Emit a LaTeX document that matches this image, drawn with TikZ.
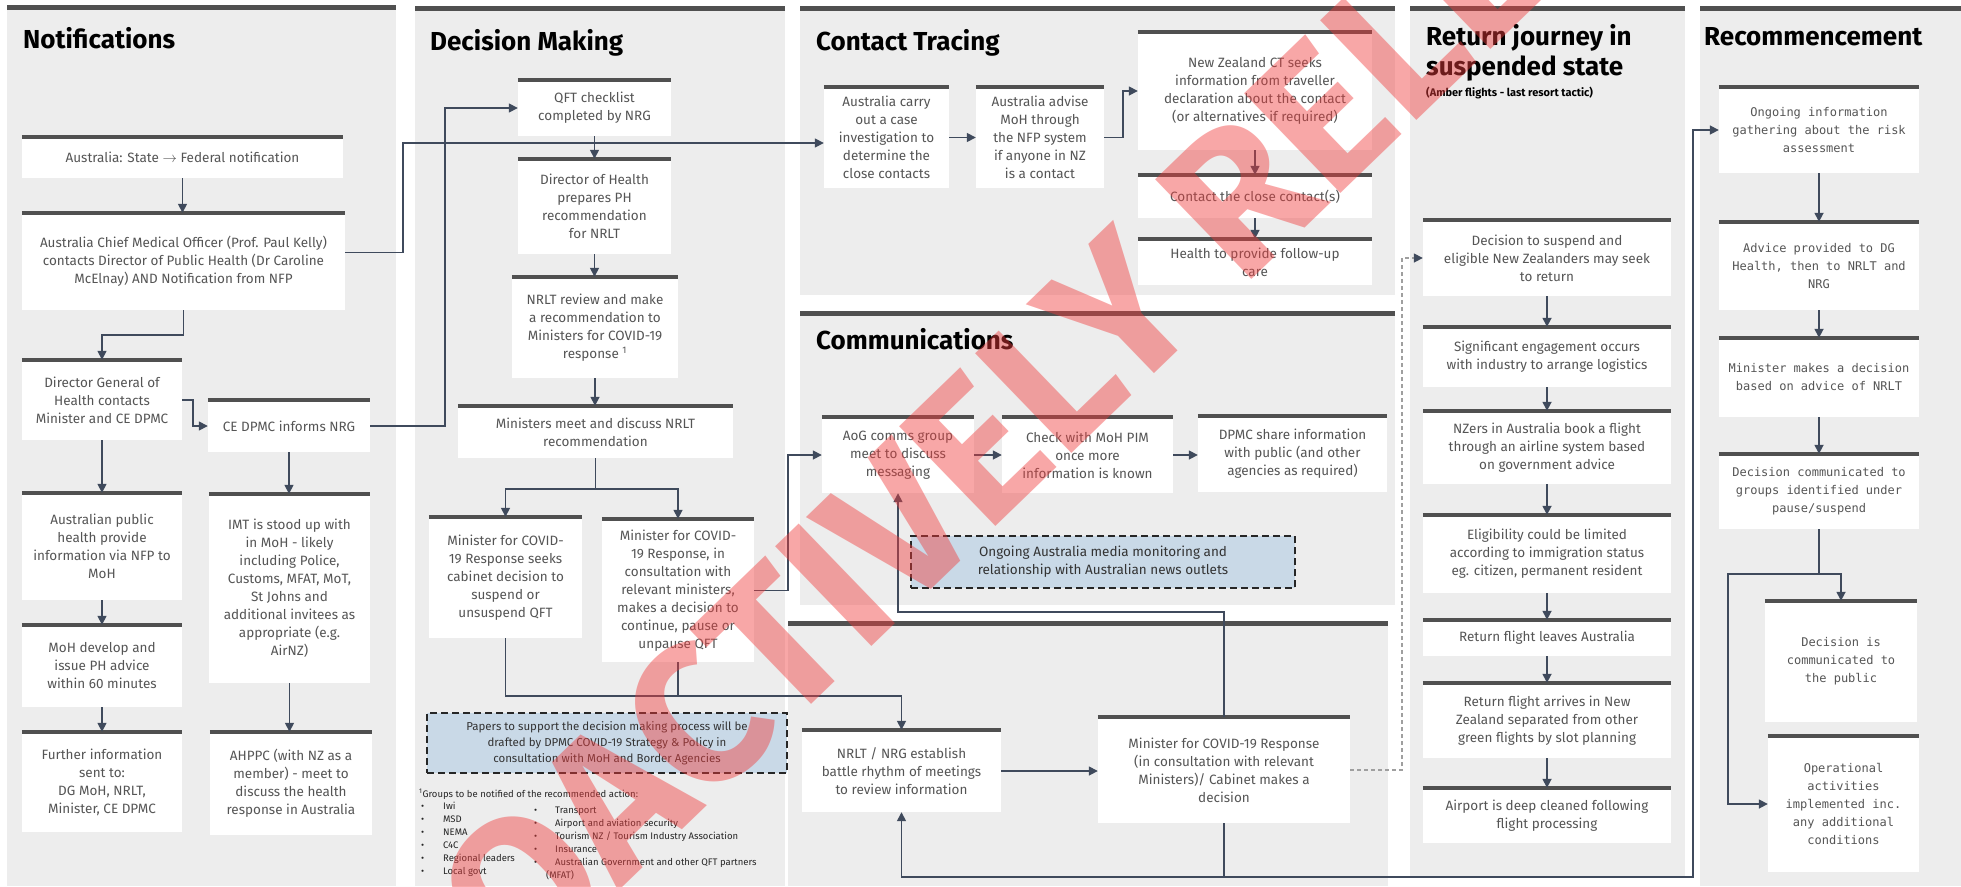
\documentclass[tikz,border=0pt]{standalone}
\usepackage{fontspec}
\setmainfont{Fira Sans}
\newfontfamily\monofam{DejaVu Sans Mono}
\usetikzlibrary{arrows.meta,calc}
\definecolor{panelgray}{HTML}{EDEDED}
\definecolor{bargray}{HTML}{505050}
\definecolor{arrowcol}{HTML}{3F4A5C}
\definecolor{txtgray}{HTML}{555555}
\definecolor{noteblue}{HTML}{C9D9E7}
\definecolor{wmred}{HTML}{F03C3C}
\tikzset{
  wh/.style 2 args={minimum width=#1pt, minimum height=#2pt},
  box/.style={fill=white, align=center, inner sep=1pt, text=txtgray, font=\fontsize{13.5}{18}\selectfont},
  rbox/.style={box, font=\monofam\fontsize{12}{18}\selectfont},
  note/.style={fill=noteblue, draw=black!85, dash pattern=on 7pt off 4pt, line width=1.3pt, align=center, text=black!80, inner sep=1pt},
  topbar/.style={draw=bargray, line width=4pt},
  panelbar/.style={draw=bargray, line width=5pt},
  arr/.style={draw=arrowcol, line width=1.6pt, -{Triangle[length=9pt,width=9pt]}},
  plain/.style={draw=arrowcol, line width=1.6pt},
  dasharr/.style={draw=gray!75, line width=1.6pt, dash pattern=on 4pt off 3pt, -{Triangle[length=9pt,width=9pt,color=arrowcol]}},
  title/.style={anchor=base west, font=\bfseries\fontsize{26}{30}\selectfont, inner sep=0pt, text=black},
  fnote/.style={anchor=north west, align=left, inner sep=0pt, text=black!85, font=\fontsize{9.5}{13}\selectfont},
  wm/.style={text=wmred, text opacity=0.45, inner sep=0pt, font=\bfseries\fontsize{200}{200}\selectfont}
}
\begin{document}
\begin{tikzpicture}[x=1pt,y=-1pt]
\useasboundingbox (0,0) rectangle (1961,886);
% panels
\fill[panelgray] (7,7) rectangle (396,886);
\fill[panelgray] (415,8) rectangle (785,886);
\fill[panelgray] (800,8) rectangle (1395,295);
\fill[panelgray] (800,313) rectangle (1395,605);
\fill[panelgray] (788,623) rectangle (1388,886);
\fill[panelgray] (1410,8) rectangle (1685,877);
\fill[panelgray] (1700,8) rectangle (1961,886);
\draw[panelbar] (7,7) -- (396,7);
\draw[panelbar] (415,8) -- (785,8);
\draw[panelbar] (800,8) -- (1395,8);
\draw[panelbar] (800,313) -- (1395,313);
\draw[panelbar] (788,623) -- (1388,623);
\draw[panelbar] (1410,8) -- (1685,8);
\draw[panelbar] (1700,8) -- (1961,8);
% titles
\node[title] (t1) at (23,48) {Notifications};
\node[title] (t2) at (430,50) {Decision Making};
\node[title] (t3) at (816,50) {Contact Tracing};
\node[title] (t4) at (816,349) {Communications};
\node[title] (t5) at (1426,45) {Return journey in};
\node[title] (t5b) at (1426,75) {suspended state};
\node[title, font=\bfseries\fontsize{11}{13}\selectfont] (t5c) at (1426,96) {(Amber flights - last resort tactic)};
\node[title] (t6) at (1704,45) {Recommencement};
% Notifications
\node[box, wh={321}{41}] (a1) at (182.5,157.5) {Australia: State $\rightarrow$ Federal notification};
\node[box, wh={323}{97}] (a2) at (183.5,261.5) {Australia Chief Medical Officer (Prof. Paul Kelly)\\contacts Director of Public Health (Dr Caroline\\McElnay) AND Notification from NFP};
\node[box, wh={160}{80}] (a3) at (102,400) {Director General of\\Health contacts\\Minister and CE DPMC};
\node[box, wh={162}{52}] (a4) at (289,426) {CE DPMC informs NRG};
\node[box, wh={160}{107}] (a5) at (102,546.5) {Australian public\\health provide\\information via NFP to\\MoH};
\node[box, wh={160}{82}] (a6) at (102,666) {MoH develop and\\issue PH advice\\within 60 minutes};
\node[box, wh={160}{100}] (a7) at (102,782) {Further information\\sent to:\\DG MoH, NRLT,\\Minister, CE DPMC};
\node[box, wh={161}{189}] (a8) at (289.5,588.5) {IMT is stood up with\\in MoH - likely\\including Police,\\Customs, MFAT, MoT,\\St Johns and\\additional invitees as\\appropriate (e.g.\\AirNZ)};
\node[box, wh={162}{103}] (a9) at (291,783.5) {AHPPC (with NZ as a\\member) - meet to\\discuss the health\\response in Australia};
% Decision making
\node[box, wh={153}{56}] (b1) at (594.5,108) {QFT checklist\\completed by NRG};
\node[box, wh={153}{95}] (b2) at (594.5,206.5) {Director of Health\\prepares PH\\recommendation\\for NRLT};
\node[box, wh={166}{101}] (b3) at (595,327.5) {NRLT review and make\\a recommendation to\\Ministers for COVID-19\\response \textsuperscript{1}};
\node[box, wh={275}{52}] (b4) at (595.5,432) {Ministers meet and discuss NRLT\\recommendation};
\node[box, wh={153}{121}] (b5) at (505.5,577.5) {Minister for COVID-\\19 Response seeks\\cabinet decision to\\suspend or\\unsuspend QFT};
\node[box, wh={152}{143}] (b6) at (678,590.5) {Minister for COVID-\\19 Response, in\\consultation with\\relevant ministers,\\makes a decision to\\continue, pause or\\unpause QFT};
\node[note, wh={360}{60}, font=\fontsize{11.5}{16}\selectfont] (b7) at (607,743) {Papers to support the decision making process will be\\drafted by DPMC COVID-19 Strategy \& Policy in\\consultation with MoH and Border Agencies};
\node[fnote] (fn) at (419,789) {\textsuperscript{1}Groups to be notified of the recommended action:};
\node[fnote] (fl1) at (421,802) {\makebox[22pt][l]{\textbullet}Iwi\\\makebox[22pt][l]{\textbullet}MSD\\\makebox[22pt][l]{\textbullet}NEMA\\\makebox[22pt][l]{\textbullet}C4C\\\makebox[22pt][l]{\textbullet}Regional leaders\\\makebox[22pt][l]{\textbullet}Local govt};
\node[fnote] (fl2) at (534,807) {\makebox[21pt][l]{\textbullet}Transport\\\makebox[21pt][l]{\textbullet}Airport and aviation security\\\makebox[21pt][l]{\textbullet}Tourism NZ / Tourism Industry Association\\\makebox[21pt][l]{\textbullet}Insurance\\\makebox[21pt][l]{\textbullet}Australian Government and other QFT partners\\\hspace*{12pt}(MFAT)};
% Contact tracing
\node[box, wh={125}{101}] (c1) at (886.5,137.5) {Australia carry\\out a case\\investigation to\\determine the\\close contacts};
\node[box, wh={128}{101}] (c2) at (1040,137.5) {Australia advise\\MoH through\\the NFP system\\if anyone in NZ\\is a contact};
\node[box, wh={234}{118}] (c3) at (1255,91) {New Zealand CT seeks\\information from traveller\\declaration about the contact\\(or alternatives if required)};
\node[box, wh={234}{43}] (c4) at (1255,196.5) {Contact the close contact(s)};
\node[box, wh={234}{46}] (c5) at (1255,262) {Health to provide follow-up\\care};
% Communications
\node[box, wh={152}{76}] (d1) at (898,455) {AoG comms group\\meet to discuss\\messaging};
\node[box, wh={171}{76}] (d2) at (1087.5,455) {Check with MoH PIM\\once more\\information is known};
\node[box, wh={189}{76}] (d3) at (1292.5,454) {DPMC share information\\with public (and other\\agencies as required)};
\node[note, wh={384}{52}, font=\fontsize{13.5}{18}\selectfont] (d4) at (1103,562) {Ongoing Australia media monitoring and\\relationship with Australian news outlets};
% lower panel
\node[box, wh={199}{82}] (e1) at (901.5,771) {NRLT / NRG establish\\battle rhythm of meetings\\to review information};
\node[box, wh={252}{106}] (e2) at (1224,770) {Minister for COVID-19 Response\\(in consultation with relevant\\Ministers)/ Cabinet makes a\\decision};
% Return journey
\node[box, wh={248}{76}] (r1) at (1547,258) {Decision to suspend and\\eligible New Zealanders may seek\\to return};
\node[box, wh={248}{60}] (r2) at (1547,357) {Significant engagement occurs\\with industry to arrange logistics};
\node[box, wh={248}{73}] (r3) at (1547,447.5) {NZers in Australia book a flight\\through an airline system based\\on government advice};
\node[box, wh={248}{78}] (r4) at (1547,554) {Eligibility could be limited\\according to immigration status\\eg. citizen, permanent resident};
\node[box, wh={248}{36}] (r5) at (1547,638) {Return flight leaves Australia};
\node[box, wh={248}{75}] (r6) at (1547,720.5) {Return flight arrives in New\\Zealand separated from other\\green flights by slot planning};
\node[box, wh={248}{55}] (r7) at (1547,815.5) {Airport is deep cleaned following\\flight processing};
% Recommencement
\node[rbox, wh={200}{86}] (f1) at (1819,130) {Ongoing information\\gathering about the risk\\assessment};
\node[rbox, wh={200}{88}] (f2) at (1819,266) {Advice provided to DG\\Health, then to NRLT and\\NRG};
\node[rbox, wh={200}{79}] (f3) at (1819,377.5) {Minister makes a decision\\based on advice of NRLT};
\node[rbox, wh={200}{75}] (f4) at (1819,491.5) {Decision communicated to\\groups identified under\\pause/suspend};
\node[rbox, wh={152}{121}] (f5) at (1841,661.5) {Decision is\\communicated to\\the public};
\node[rbox, wh={151}{136}] (f6) at (1843.5,804) {Operational\\activities\\implemented inc.\\any additional\\conditions};
% top bars of boxes
\foreach \n in {a1,a2,a3,a4,a5,a6,a7,a8,a9,b1,b2,b3,b4,b5,b6,c1,c2,c3,c4,c5,d1,d2,d3,e1,e2,r1,r2,r3,r4,r5,r6,r7,f1,f2,f3,f4,f5,f6}
  \draw[topbar] (\n.north west) -- (\n.north east);
% connectors: notifications
\draw[arr] (a1.south) -- (a1.south |- a2.north);
\draw[arr] (a2.south) -- ++(0,25) -| (a3.north);
\draw[arr] (a3.east) -- ++(11,0) |- (a4.west);
\draw[arr] (a3.south) -- (a3.south |- a5.north);
\draw[arr] (a5.south) -- (a5.south |- a6.north);
\draw[arr] (a6.south) -- (a6.south |- a7.north);
\draw[arr] (a4.south) -- (a4.south |- a8.north);
\draw[arr] (a8.south) -- (a8.south |- a9.north);
\draw[arr] ($(a2.east)+(0,-9)$) -- ++(58,0) |- ($(c1.west)+(0,5.5)$);
\draw[arr] (a4.east) -- ++(75,0) |- (b1.west);
% decision making
\draw[arr] (b1.south) -- (b1.south |- b2.north);
\draw[arr] (b2.south) -- (b2.south |- b3.north);
\draw[arr] (b3.south) -- (b3.south |- b4.north);
\draw[arr] (b4.south) -- ++(0,31) -| (b5.north);
\draw[arr] (b4.south) -- ++(0,31) -| (b6.north);
\draw[arr] (b6.east) -- ++(34,0) |- (d1.west);
\draw[arr] (b5.south) -- ++(0,58) -| (e1.north);
\coordinate (jdm) at (678,696);
\draw[plain] (b6.south) -- (jdm);
% contact tracing
\draw[arr] (c1.east) -- (c1.east -| c2.west);
\draw[arr] (c2.east) -- ++(19,0) |- (c3.west);
\draw[arr] (c3.south) -- (c3.south |- c4.north);
\draw[arr] (c4.south) -- (c4.south |- c5.north);
% communications
\draw[arr] (d1.east) -- (d1.east -| d2.west);
\draw[arr] (d2.east) -- (d2.east -| d3.west);
\draw[arr] (e2.north) -- ++(0,-105) -| (d1.south);
\draw[arr] (e1.east) -- (e1.east -| e2.west);
\draw[arr] (e2.south) -- ++(0,54) -| (e1.south);
\draw[arr] (e2.south) |- (1693,877) |- (f1.west);
\draw[dasharr] (e2.east) -- ++(52,0) |- (r1.west);
% return journey
\draw[arr] (r1.south) -- (r1.south |- r2.north);
\draw[arr] (r2.south) -- (r2.south |- r3.north);
\draw[arr] (r3.south) -- (r3.south |- r4.north);
\draw[arr] (r4.south) -- (r4.south |- r5.north);
\draw[arr] (r5.south) -- (r5.south |- r6.north);
\draw[arr] (r6.south) -- (r6.south |- r7.north);
% recommencement
\draw[arr] (f1.south) -- (f1.south |- f2.north);
\draw[arr] (f2.south) -- (f2.south |- f3.north);
\draw[arr] (f3.south) -- (f3.south |- f4.north);
\draw[arr] (f4.south) -- ++(0,45) -| (f5.north);
\draw[arr] (f4.south) -- ++(0,45) -- ++(-91,0) |- (f6.west);
% watermark
\begin{scope}
\clip (0,0) rectangle (1961,886);
\node[wm, rotate=44, anchor=base west] (wmark) at (620,890) {\makebox[0pt][r]{PRO}ACTIVELY RELEASED};
\end{scope}
\end{tikzpicture}
\end{document}
